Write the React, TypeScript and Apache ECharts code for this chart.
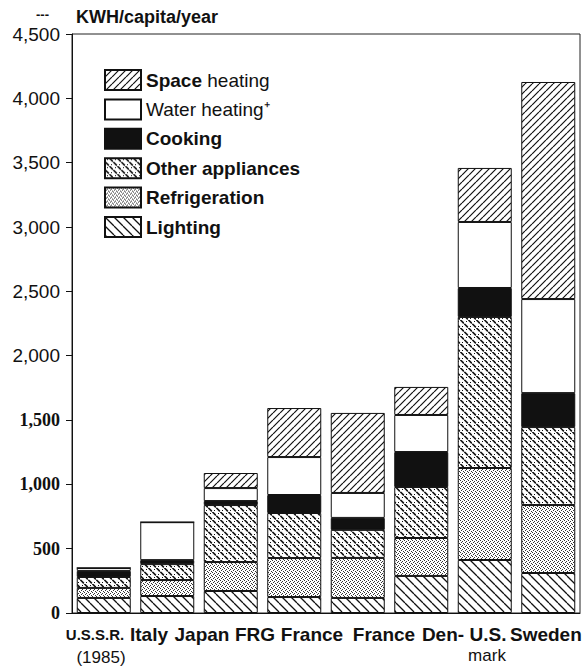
import React, { useEffect, useRef } from "react";
import * as echarts from "echarts";

// Bars (bottom-to-top stack order: lighting, refrigeration, other, cooking, water, space)
const countries = ["U.S.S.R. (1985)", "Italy", "Japan", "FRG", "France", "Denmark", "U.S.", "Sweden"];
const lighting = [117, 132, 171, 124, 117, 288, 412, 311];
const refrigeration = [78, 124, 225, 303, 311, 295, 715, 528];
const otherAppliances = [85, 124, 443, 350, 218, 396, 1174, 606];
const cooking = [47, 31, 31, 140, 93, 272, 225, 264];
const waterHeating = [23, 295, 101, 295, 194, 288, 513, 731];
const spaceHeating = [0, 0, 117, 381, 622, 218, 420, 1687];

// Printed category labels under the axis (as typeset in the original)
const xTickLabels = ["U.S.S.R.", "Italy", "Japan", "FRG", "France", "France", "Den-", "U.S.", "Sweden"];
const xTickSubLabels = ["(1985)", "", "", "", "", "", "mark", "", ""];
const unitLabel = "KWH/capita/year";

// layout of the printed labels (pixels)
const labelCenters = [95, 149, 202, 255, 312, 384, 443, 488, 545];
const subLabelCenters = [101, 0, 0, 0, 0, 0, 487, 0, 0];

export default function App() {
  const ref = useRef<HTMLDivElement>(null);
  useEffect(() => {
    const el = ref.current!;
    const chart = echarts.init(el, null, { renderer: "svg" });
    const tile = (size: number, draw: (c: CanvasRenderingContext2D, s: number) => void) => {
      const cv = document.createElement("canvas");
      cv.width = size;
      cv.height = size;
      const ctx = cv.getContext("2d")!;
      ctx.fillStyle = "#fff";
      ctx.fillRect(0, 0, size, size);
      ctx.strokeStyle = "#111";
      ctx.fillStyle = "#111";
      draw(ctx, size);
      return { image: cv, repeat: "repeat", imageWidth: size, imageHeight: size } as any;
    };
    const fwd = tile(7, (c, s) => {
      c.lineWidth = 1.2;
      c.beginPath();
      for (const k of [-1, 0, 1]) {
        c.moveTo(k * s, s);
        c.lineTo(k * s + s, 0);
      }
      c.stroke();
    });
    const back = tile(9, (c, s) => {
      c.lineWidth = 1.3;
      c.beginPath();
      for (const k of [-1, 0, 1]) {
        c.moveTo(k * s, 0);
        c.lineTo(k * s + s, s);
      }
      c.stroke();
    });
    const dashes = tile(8, (c) => {
      c.lineWidth = 1.6;
      c.lineCap = "round";
      c.beginPath();
      c.moveTo(0.8, 4.3);
      c.lineTo(3.4, 6.9);
      c.moveTo(4.8, 0.3);
      c.lineTo(7.4, 2.9);
      c.stroke();
      c.fillRect(6, 6, 1, 1);
      c.fillRect(2, 1, 1, 1);
    });
    const dots = tile(4, (c) => {
      c.fillStyle = "#333";
      c.fillRect(0, 0, 1, 1);
      c.fillRect(2, 1, 1, 1);
      c.fillRect(1, 2, 1, 1);
      c.fillRect(3, 3, 1, 1);
    });

    const mk = (name: string, data: number[], color: any) => ({
      name,
      type: "bar",
      stack: "total",
      data,
      barWidth: 54,
      itemStyle: { color, borderColor: "#111", borderWidth: 1 },
    });

    const sans = "'Liberation Sans', Arial, Helvetica, sans-serif";
    const serif = "'Liberation Serif', 'Times New Roman', serif";

    const graphics: any[] = [
      { type: "text", left: 76, top: 8, style: { text: unitLabel, font: `bold 18px ${sans}`, fill: "#111" } },
      { type: "text", left: 36, top: 8, style: { text: "---", font: `bold 13px ${sans}`, fill: "#111" } },
    ];
    xTickLabels.forEach((t, i) => {
      const isSmall = i === 0;
      const last = i === xTickLabels.length - 1;
      graphics.push({
        type: "text",
        x: last ? 510 : labelCenters[i],
        y: 634,
        style: {
          text: t,
          font: `bold ${isSmall ? 15 : 19}px ${sans}`,
          fill: "#111",
          textAlign: last ? "left" : "center",
          textVerticalAlign: "middle",
        },
      });
      if (xTickSubLabels[i]) {
        graphics.push({
          type: "text",
          x: subLabelCenters[i],
          y: i === 0 ? 657 : 655,
          style: {
            text: xTickSubLabels[i],
            font: `17px ${sans}`,
            fill: "#111",
            textAlign: "center",
            textVerticalAlign: "middle",
          },
        });
      }
    });

    chart.setOption({
      animation: false,
      backgroundColor: "#fff",
      grid: {
        left: 72,
        right: 6,
        top: 34,
        bottom: 59,
        show: true,
        borderColor: "#222",
        borderWidth: 1,
        backgroundColor: "transparent",
      },
      legend: {
        orient: "vertical",
        left: 99,
        top: 64,
        itemWidth: 36,
        itemHeight: 20,
        itemGap: 7.4,
        itemTextGap: 12,
        icon: "rect",
        selectedMode: false,
        textStyle: {
          fontSize: 19,
          fontFamily: sans,
          color: "#111",
          rich: {
            b: { fontSize: 19, fontFamily: sans, fontWeight: "bold", color: "#111" },
            n: { fontSize: 19, fontFamily: sans, color: "#111" },
          },
        },
        formatter: (name: string) => {
          if (name === "Space heating") return "{b|Space} {n|heating}";
          if (name === "Water heating") return "{n|Water heating⁺}";
          return name;
        },
        data: [
          { name: "Space heating" },
          { name: "Water heating" },
          { name: "Cooking", textStyle: { fontWeight: "bold" } },
          { name: "Other appliances", textStyle: { fontWeight: "bold" } },
          { name: "Refrigeration", textStyle: { fontWeight: "bold" } },
          { name: "Lighting", textStyle: { fontWeight: "bold" } },
        ],
      },
      xAxis: {
        type: "category",
        data: countries,
        axisLabel: { show: false },
        axisTick: { show: false },
        axisLine: { show: true, lineStyle: { color: "#111", width: 1 } },
      },
      yAxis: {
        type: "value",
        min: 0,
        max: 4500,
        interval: 500,
        splitLine: { show: false },
        axisLine: { show: true, lineStyle: { color: "#111", width: 1 } },
        axisTick: { show: true, length: 6, lineStyle: { color: "#111" } },
        axisLabel: {
          margin: 12,
          formatter: (v: number) => {
            const s = v.toLocaleString("en-US");
            return v <= 1500 ? `{t|${s}}` : `{s|${s}}`;
          },
          rich: {
            s: { fontFamily: sans, fontSize: 19, color: "#111" },
            t: { fontFamily: serif, fontSize: 18, fontWeight: "bold", color: "#111" },
          },
        },
      },
      series: [
        mk("Lighting", lighting, back),
        mk("Refrigeration", refrigeration, dots),
        mk("Other appliances", otherAppliances, dashes),
        mk("Cooking", cooking, "#111"),
        mk("Water heating", waterHeating, "#fff"),
        mk("Space heating", spaceHeating, fwd),
      ],
      graphic: graphics,
    });
    return () => chart.dispose();
  }, []);
  return <div ref={ref} style={{ position: "absolute", left: 0, top: 0, width: 586, height: 672 }} />;
}
